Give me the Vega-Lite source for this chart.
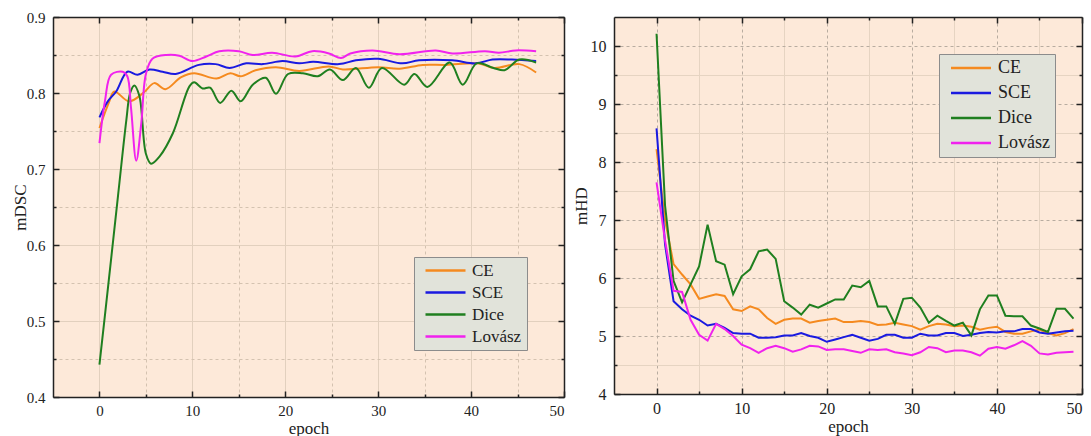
{
  "$schema": "https://vega.github.io/schema/vega-lite/v6.json",
  "background": "white",
  "padding": {"left": 11, "top": 10, "right": 5, "bottom": 0},
  "bounds": "flush",
  "spacing": 50,
  "config": {
    "font": "Liberation Serif",
    "view": {"fill": "#fde9d9", "stroke": null},
    "axis": {"labelFont": "Liberation Serif", "titleFont": "Liberation Serif", "labelColor": "#222", "titleColor": "#222", "titleFontWeight": "normal", "domainColor": "#222", "domainWidth": 1.5, "tickColor": "#222", "tickWidth": 1.5},
    "legend": {"labelFont": "Liberation Serif", "labelColor": "#222"}
  },
  "resolve": {"scale": {"color": "independent"}, "legend": {"color": "independent"}},
  "datasets": {
    "dsc": [
      {"epoch": 0, "loss": "CE", "value": 0.754}, {"epoch": 1, "loss": "CE", "value": 0.787}, {"epoch": 1.6, "loss": "CE", "value": 0.802}, {"epoch": 3.2, "loss": "CE", "value": 0.789}, {"epoch": 4.8, "loss": "CE", "value": 0.801}, {"epoch": 5.9, "loss": "CE", "value": 0.813}, {"epoch": 7.1, "loss": "CE", "value": 0.805}, {"epoch": 8.8, "loss": "CE", "value": 0.821}, {"epoch": 10.2, "loss": "CE", "value": 0.826}, {"epoch": 12.6, "loss": "CE", "value": 0.819}, {"epoch": 14.1, "loss": "CE", "value": 0.826}, {"epoch": 15.2, "loss": "CE", "value": 0.822}, {"epoch": 16.8, "loss": "CE", "value": 0.830}, {"epoch": 19, "loss": "CE", "value": 0.834}, {"epoch": 21.5, "loss": "CE", "value": 0.829}, {"epoch": 24.7, "loss": "CE", "value": 0.835}, {"epoch": 26.2, "loss": "CE", "value": 0.831}, {"epoch": 30, "loss": "CE", "value": 0.834}, {"epoch": 32.3, "loss": "CE", "value": 0.832}, {"epoch": 34.8, "loss": "CE", "value": 0.837}, {"epoch": 37.3, "loss": "CE", "value": 0.837}, {"epoch": 40.7, "loss": "CE", "value": 0.839}, {"epoch": 42.5, "loss": "CE", "value": 0.833}, {"epoch": 45.2, "loss": "CE", "value": 0.838}, {"epoch": 47, "loss": "CE", "value": 0.827},
      {"epoch": 0, "loss": "SCE", "value": 0.768}, {"epoch": 0.9, "loss": "SCE", "value": 0.789}, {"epoch": 1.8, "loss": "SCE", "value": 0.802}, {"epoch": 3, "loss": "SCE", "value": 0.828}, {"epoch": 4.1, "loss": "SCE", "value": 0.824}, {"epoch": 5.4, "loss": "SCE", "value": 0.831}, {"epoch": 6.8, "loss": "SCE", "value": 0.828}, {"epoch": 8.2, "loss": "SCE", "value": 0.825}, {"epoch": 10.7, "loss": "SCE", "value": 0.837}, {"epoch": 12.5, "loss": "SCE", "value": 0.838}, {"epoch": 14, "loss": "SCE", "value": 0.833}, {"epoch": 15.8, "loss": "SCE", "value": 0.839}, {"epoch": 17.6, "loss": "SCE", "value": 0.838}, {"epoch": 19.7, "loss": "SCE", "value": 0.842}, {"epoch": 21.5, "loss": "SCE", "value": 0.839}, {"epoch": 23, "loss": "SCE", "value": 0.841}, {"epoch": 25.8, "loss": "SCE", "value": 0.838}, {"epoch": 27.6, "loss": "SCE", "value": 0.843}, {"epoch": 30, "loss": "SCE", "value": 0.845}, {"epoch": 32.6, "loss": "SCE", "value": 0.839}, {"epoch": 34.4, "loss": "SCE", "value": 0.843}, {"epoch": 38, "loss": "SCE", "value": 0.843}, {"epoch": 40.5, "loss": "SCE", "value": 0.839}, {"epoch": 42.3, "loss": "SCE", "value": 0.844}, {"epoch": 44.4, "loss": "SCE", "value": 0.844}, {"epoch": 47, "loss": "SCE", "value": 0.842},
      {"epoch": 0, "loss": "Dice", "value": 0.4425}, {"epoch": 1, "loss": "Dice", "value": 0.553}, {"epoch": 2, "loss": "Dice", "value": 0.665}, {"epoch": 2.9, "loss": "Dice", "value": 0.765}, {"epoch": 3.3, "loss": "Dice", "value": 0.800}, {"epoch": 3.76, "loss": "Dice", "value": 0.81}, {"epoch": 4.3, "loss": "Dice", "value": 0.796}, {"epoch": 5, "loss": "Dice", "value": 0.72}, {"epoch": 5.55, "loss": "Dice", "value": 0.707}, {"epoch": 6.5, "loss": "Dice", "value": 0.717}, {"epoch": 7.9, "loss": "Dice", "value": 0.747}, {"epoch": 9.7, "loss": "Dice", "value": 0.809}, {"epoch": 10.2, "loss": "Dice", "value": 0.814}, {"epoch": 11.1, "loss": "Dice", "value": 0.806}, {"epoch": 11.9, "loss": "Dice", "value": 0.807}, {"epoch": 13, "loss": "Dice", "value": 0.787}, {"epoch": 14.2, "loss": "Dice", "value": 0.803}, {"epoch": 15.2, "loss": "Dice", "value": 0.789}, {"epoch": 16.5, "loss": "Dice", "value": 0.811}, {"epoch": 17.9, "loss": "Dice", "value": 0.820}, {"epoch": 19, "loss": "Dice", "value": 0.799}, {"epoch": 20.3, "loss": "Dice", "value": 0.825}, {"epoch": 21.9, "loss": "Dice", "value": 0.826}, {"epoch": 23.5, "loss": "Dice", "value": 0.822}, {"epoch": 24.8, "loss": "Dice", "value": 0.831}, {"epoch": 26.2, "loss": "Dice", "value": 0.817}, {"epoch": 27.6, "loss": "Dice", "value": 0.833}, {"epoch": 29, "loss": "Dice", "value": 0.807}, {"epoch": 30.4, "loss": "Dice", "value": 0.833}, {"epoch": 32.8, "loss": "Dice", "value": 0.811}, {"epoch": 33.9, "loss": "Dice", "value": 0.825}, {"epoch": 35.3, "loss": "Dice", "value": 0.808}, {"epoch": 37.7, "loss": "Dice", "value": 0.840}, {"epoch": 39.1, "loss": "Dice", "value": 0.811}, {"epoch": 40.6, "loss": "Dice", "value": 0.839}, {"epoch": 42.4, "loss": "Dice", "value": 0.833}, {"epoch": 43.6, "loss": "Dice", "value": 0.830}, {"epoch": 45.2, "loss": "Dice", "value": 0.844}, {"epoch": 47, "loss": "Dice", "value": 0.840},
      {"epoch": 0, "loss": "Lovász", "value": 0.734}, {"epoch": 0.6, "loss": "Lovász", "value": 0.79}, {"epoch": 1.25, "loss": "Lovász", "value": 0.824}, {"epoch": 2.5, "loss": "Lovász", "value": 0.828}, {"epoch": 3, "loss": "Lovász", "value": 0.822}, {"epoch": 3.4, "loss": "Lovász", "value": 0.78}, {"epoch": 3.96, "loss": "Lovász", "value": 0.711}, {"epoch": 4.5, "loss": "Lovász", "value": 0.76}, {"epoch": 5, "loss": "Lovász", "value": 0.825}, {"epoch": 5.7, "loss": "Lovász", "value": 0.845}, {"epoch": 7.2, "loss": "Lovász", "value": 0.85}, {"epoch": 8.6, "loss": "Lovász", "value": 0.849}, {"epoch": 10, "loss": "Lovász", "value": 0.842}, {"epoch": 11.5, "loss": "Lovász", "value": 0.848}, {"epoch": 12.9, "loss": "Lovász", "value": 0.855}, {"epoch": 15, "loss": "Lovász", "value": 0.855}, {"epoch": 16.5, "loss": "Lovász", "value": 0.85}, {"epoch": 18.6, "loss": "Lovász", "value": 0.853}, {"epoch": 21.1, "loss": "Lovász", "value": 0.848}, {"epoch": 22.9, "loss": "Lovász", "value": 0.855}, {"epoch": 24.7, "loss": "Lovász", "value": 0.852}, {"epoch": 26, "loss": "Lovász", "value": 0.846}, {"epoch": 27, "loss": "Lovász", "value": 0.852}, {"epoch": 29.4, "loss": "Lovász", "value": 0.856}, {"epoch": 32.3, "loss": "Lovász", "value": 0.851}, {"epoch": 36.2, "loss": "Lovász", "value": 0.856}, {"epoch": 38, "loss": "Lovász", "value": 0.852}, {"epoch": 41.5, "loss": "Lovász", "value": 0.855}, {"epoch": 43, "loss": "Lovász", "value": 0.853}, {"epoch": 44.8, "loss": "Lovász", "value": 0.856}, {"epoch": 47, "loss": "Lovász", "value": 0.855}
    ],
    "hd": [
      {"epoch": 0, "CE": 8.22, "SCE": 8.58, "Dice": 10.21, "Lovász": 7.65},
      {"epoch": 1, "CE": 7.0, "SCE": 6.58, "Dice": 7.25, "Lovász": 6.65},
      {"epoch": 2, "CE": 6.24, "SCE": 5.60, "Dice": 5.95, "Lovász": 5.78},
      {"epoch": 3, "CE": 6.06, "SCE": 5.46, "Dice": 5.58, "Lovász": 5.76},
      {"epoch": 4, "CE": 5.89, "SCE": 5.35, "Dice": 5.89, "Lovász": 5.28},
      {"epoch": 5, "CE": 5.64, "SCE": 5.28, "Dice": 6.20, "Lovász": 5.02},
      {"epoch": 6, "CE": 5.68, "SCE": 5.18, "Dice": 6.92, "Lovász": 4.92},
      {"epoch": 7, "CE": 5.72, "SCE": 5.21, "Dice": 6.29, "Lovász": 5.21},
      {"epoch": 8, "CE": 5.69, "SCE": 5.14, "Dice": 6.23, "Lovász": 5.12},
      {"epoch": 9, "CE": 5.46, "SCE": 5.05, "Dice": 5.72, "Lovász": 5.00},
      {"epoch": 10, "CE": 5.43, "SCE": 5.04, "Dice": 6.03, "Lovász": 4.85},
      {"epoch": 11, "CE": 5.51, "SCE": 5.04, "Dice": 6.15, "Lovász": 4.79},
      {"epoch": 12, "CE": 5.46, "SCE": 4.97, "Dice": 6.46, "Lovász": 4.71},
      {"epoch": 13, "CE": 5.31, "SCE": 4.97, "Dice": 6.49, "Lovász": 4.79},
      {"epoch": 14, "CE": 5.21, "SCE": 4.98, "Dice": 6.33, "Lovász": 4.83},
      {"epoch": 15, "CE": 5.28, "SCE": 5.01, "Dice": 5.60, "Lovász": 4.79},
      {"epoch": 16, "CE": 5.30, "SCE": 5.01, "Dice": 5.49, "Lovász": 4.73},
      {"epoch": 17, "CE": 5.30, "SCE": 5.05, "Dice": 5.37, "Lovász": 4.77},
      {"epoch": 18, "CE": 5.23, "SCE": 5.00, "Dice": 5.54, "Lovász": 4.83},
      {"epoch": 19, "CE": 5.26, "SCE": 4.97, "Dice": 5.49, "Lovász": 4.82},
      {"epoch": 20, "CE": 5.28, "SCE": 4.90, "Dice": 5.56, "Lovász": 4.76},
      {"epoch": 21, "CE": 5.30, "SCE": 4.94, "Dice": 5.63, "Lovász": 4.77},
      {"epoch": 22, "CE": 5.24, "SCE": 4.98, "Dice": 5.63, "Lovász": 4.77},
      {"epoch": 23, "CE": 5.24, "SCE": 5.02, "Dice": 5.87, "Lovász": 4.74},
      {"epoch": 24, "CE": 5.26, "SCE": 4.97, "Dice": 5.84, "Lovász": 4.71},
      {"epoch": 25, "CE": 5.24, "SCE": 4.92, "Dice": 5.95, "Lovász": 4.77},
      {"epoch": 26, "CE": 5.19, "SCE": 4.95, "Dice": 5.51, "Lovász": 4.76},
      {"epoch": 27, "CE": 5.20, "SCE": 5.02, "Dice": 5.51, "Lovász": 4.77},
      {"epoch": 28, "CE": 5.23, "SCE": 5.02, "Dice": 5.21, "Lovász": 4.72},
      {"epoch": 29, "CE": 5.20, "SCE": 4.97, "Dice": 5.64, "Lovász": 4.70},
      {"epoch": 30, "CE": 5.17, "SCE": 4.97, "Dice": 5.66, "Lovász": 4.67},
      {"epoch": 31, "CE": 5.11, "SCE": 5.04, "Dice": 5.49, "Lovász": 4.72},
      {"epoch": 32, "CE": 5.17, "SCE": 5.01, "Dice": 5.23, "Lovász": 4.81},
      {"epoch": 33, "CE": 5.21, "SCE": 5.01, "Dice": 5.35, "Lovász": 4.79},
      {"epoch": 34, "CE": 5.20, "SCE": 5.05, "Dice": 5.26, "Lovász": 4.72},
      {"epoch": 35, "CE": 5.17, "SCE": 5.05, "Dice": 5.18, "Lovász": 4.75},
      {"epoch": 36, "CE": 5.18, "SCE": 5.00, "Dice": 5.23, "Lovász": 4.75},
      {"epoch": 37, "CE": 5.16, "SCE": 5.02, "Dice": 5.01, "Lovász": 4.72},
      {"epoch": 38, "CE": 5.11, "SCE": 5.05, "Dice": 5.46, "Lovász": 4.66},
      {"epoch": 39, "CE": 5.14, "SCE": 5.07, "Dice": 5.70, "Lovász": 4.78},
      {"epoch": 40, "CE": 5.16, "SCE": 5.06, "Dice": 5.70, "Lovász": 4.81},
      {"epoch": 41, "CE": 5.07, "SCE": 5.08, "Dice": 5.35, "Lovász": 4.78},
      {"epoch": 42, "CE": 5.04, "SCE": 5.08, "Dice": 5.34, "Lovász": 4.84},
      {"epoch": 43, "CE": 5.04, "SCE": 5.12, "Dice": 5.34, "Lovász": 4.91},
      {"epoch": 44, "CE": 5.08, "SCE": 5.12, "Dice": 5.18, "Lovász": 4.83},
      {"epoch": 45, "CE": 5.11, "SCE": 5.06, "Dice": 5.13, "Lovász": 4.70},
      {"epoch": 46, "CE": 5.05, "SCE": 5.04, "Dice": 5.07, "Lovász": 4.68},
      {"epoch": 47, "CE": 5.01, "SCE": 5.06, "Dice": 5.47, "Lovász": 4.71},
      {"epoch": 48, "CE": 5.05, "SCE": 5.08, "Dice": 5.47, "Lovász": 4.72},
      {"epoch": 49, "CE": 5.12, "SCE": 5.09, "Dice": 5.30, "Lovász": 4.73}
    ]
  },
  "hconcat": [
    {
      "width": 511,
      "height": 380,
      "data": {"name": "dsc"},
      "resolve": {"axis": {"x": "independent", "y": "independent"}},
      "layer": [
        {
          "mark": {"type": "line", "interpolate": "catmull-rom", "strokeWidth": 2},
          "encoding": {
            "x": {"field": "epoch", "type": "quantitative", "scale": {"domain": [-5, 50], "nice": false, "zero": false},
              "axis": {"orient": "bottom", "values": [0, 10, 20, 30, 40, 50], "ticks": false, "labelPadding": 6, "labelFontSize": 15, "title": "epoch", "titleFontSize": 17, "titlePadding": 2, "grid": true, "gridColor": "#e2d0be", "gridWidth": 1}},
            "y": {"field": "value", "type": "quantitative", "scale": {"domain": [0.4, 0.9], "nice": false, "zero": false},
              "axis": {"orient": "left", "values": [0.4, 0.5, 0.6, 0.7, 0.8, 0.9], "format": ".1f", "ticks": false, "labelPadding": 8, "labelFontSize": 15, "title": "mDSC", "titleFontSize": 17, "titlePadding": -3, "grid": true, "gridColor": "#e2d0be", "gridWidth": 1}},
            "color": {"field": "loss", "type": "nominal",
              "scale": {"domain": ["CE", "SCE", "Dice", "Lovász"], "range": ["#f58a1f", "#1a1ae0", "#1f7f1f", "#f022ee"]},
              "legend": {"orient": "none", "legendX": 361, "legendY": 240, "title": null, "fillColor": "#e1e3da", "strokeColor": "#8c8c8c", "padding": 5, "symbolType": "M-4,0H4", "symbolSize": 100, "symbolStrokeWidth": 2.5, "symbolOffset": 18, "labelFontSize": 17, "rowPadding": 4, "labelOffset": 18}}
          }
        },
        {
          "mark": {"type": "point", "opacity": 0},
          "encoding": {
            "x": {"field": "epoch", "type": "quantitative", "scale": {"domain": [-5, 50], "nice": false, "zero": false},
              "axis": {"orient": "top", "values": [0, 10, 20, 30, 40, 50], "labels": false, "title": null, "grid": false, "tickSize": -6}},
            "y": {"field": "value", "type": "quantitative", "scale": {"domain": [0.4, 0.9], "nice": false, "zero": false},
              "axis": {"orient": "right", "values": [0.4, 0.5, 0.6, 0.7, 0.8, 0.9], "labels": false, "title": null, "grid": false, "tickSize": -6}}
          }
        },
        {
          "mark": {"type": "point", "opacity": 0},
          "encoding": {
            "x": {"field": "epoch", "type": "quantitative", "scale": {"domain": [-5, 50], "nice": false, "zero": false},
              "axis": {"orient": "bottom", "values": [0, 10, 20, 30, 40, 50], "labels": false, "domain": false, "title": null, "grid": false, "tickSize": -6}},
            "y": {"field": "value", "type": "quantitative", "scale": {"domain": [0.4, 0.9], "nice": false, "zero": false},
              "axis": {"orient": "left", "values": [0.4, 0.5, 0.6, 0.7, 0.8, 0.9], "labels": false, "domain": false, "title": null, "grid": false, "tickSize": -6}}
          }
        },
        {
          "mark": {"type": "point", "opacity": 0},
          "encoding": {
            "x": {"field": "epoch", "type": "quantitative", "scale": {"domain": [-5, 50], "nice": false, "zero": false},
              "axis": {"orient": "bottom", "values": [5, 15, 25, 35, 45], "labels": false, "domain": false, "title": null, "grid": true, "gridColor": "#d4c2b0", "gridDash": [3, 3], "tickSize": -3}},
            "y": {"field": "value", "type": "quantitative", "scale": {"domain": [0.4, 0.9], "nice": false, "zero": false},
              "axis": {"orient": "left", "values": [0.45, 0.55, 0.65, 0.75, 0.85], "labels": false, "domain": false, "title": null, "grid": true, "gridColor": "#d4c2b0", "gridDash": [3, 3], "tickSize": -3}}
          }
        },
        {
          "mark": {"type": "point", "opacity": 0},
          "encoding": {
            "x": {"field": "epoch", "type": "quantitative", "scale": {"domain": [-5, 50], "nice": false, "zero": false},
              "axis": {"orient": "top", "values": [5, 15, 25, 35, 45], "labels": false, "domain": false, "title": null, "grid": false, "tickSize": -3}},
            "y": {"field": "value", "type": "quantitative", "scale": {"domain": [0.4, 0.9], "nice": false, "zero": false},
              "axis": {"orient": "right", "values": [0.45, 0.55, 0.65, 0.75, 0.85], "labels": false, "domain": false, "title": null, "grid": false, "tickSize": -3}}
          }
        }
      ]
    },
    {
      "width": 468,
      "height": 377,
      "data": {"name": "hd"},
      "transform": [{"fold": ["CE", "SCE", "Dice", "Lovász"], "as": ["loss", "value"]}],
      "resolve": {"axis": {"x": "independent", "y": "independent"}},
      "layer": [
        {
          "mark": {"type": "line", "interpolate": "linear", "strokeWidth": 2},
          "encoding": {
            "x": {"field": "epoch", "type": "quantitative", "scale": {"domain": [-5, 50], "nice": false, "zero": false},
              "axis": {"orient": "bottom", "values": [0, 10, 20, 30, 40, 50], "ticks": false, "labelPadding": 6, "labelFontSize": 16, "title": "epoch", "titleFontSize": 17, "titlePadding": 2, "grid": true, "gridColor": "#b8aca0", "gridDash": [3, 3], "gridWidth": 1}},
            "y": {"field": "value", "type": "quantitative", "scale": {"domain": [4, 10.5], "nice": false, "zero": false},
              "axis": {"orient": "left", "values": [4, 5, 6, 7, 8, 9, 10], "format": "d", "ticks": false, "labelPadding": 8, "labelFontSize": 16, "title": "mHD", "titleFontSize": 17, "titlePadding": 0, "grid": true, "gridColor": "#b8aca0", "gridDash": [3, 3], "gridWidth": 1}},
            "color": {"field": "loss", "type": "nominal",
              "scale": {"domain": ["CE", "SCE", "Dice", "Lovász"], "range": ["#f58a1f", "#1a1ae0", "#1f7f1f", "#f022ee"]},
              "legend": {"orient": "none", "legendX": 325, "legendY": 37, "title": null, "fillColor": "#e1e3da", "strokeColor": "#8c8c8c", "padding": 5, "symbolType": "M-4,0H4", "symbolSize": 100, "symbolStrokeWidth": 2.5, "symbolOffset": 18, "labelFontSize": 18, "rowPadding": 7, "labelOffset": 18}}
          }
        },
        {
          "mark": {"type": "point", "opacity": 0},
          "encoding": {
            "x": {"field": "epoch", "type": "quantitative", "scale": {"domain": [-5, 50], "nice": false, "zero": false},
              "axis": {"orient": "top", "values": [0, 10, 20, 30, 40, 50], "labels": false, "title": null, "grid": false, "tickSize": -6}},
            "y": {"field": "value", "type": "quantitative", "scale": {"domain": [4, 10.5], "nice": false, "zero": false},
              "axis": {"orient": "right", "values": [4, 5, 6, 7, 8, 9, 10], "labels": false, "title": null, "grid": false, "tickSize": -6}}
          }
        },
        {
          "mark": {"type": "point", "opacity": 0},
          "encoding": {
            "x": {"field": "epoch", "type": "quantitative", "scale": {"domain": [-5, 50], "nice": false, "zero": false},
              "axis": {"orient": "bottom", "values": [0, 10, 20, 30, 40, 50], "labels": false, "domain": false, "title": null, "grid": false, "tickSize": -6}},
            "y": {"field": "value", "type": "quantitative", "scale": {"domain": [4, 10.5], "nice": false, "zero": false},
              "axis": {"orient": "left", "values": [4, 5, 6, 7, 8, 9, 10], "labels": false, "domain": false, "title": null, "grid": false, "tickSize": -6}}
          }
        },
        {
          "mark": {"type": "point", "opacity": 0},
          "encoding": {
            "x": {"field": "epoch", "type": "quantitative", "scale": {"domain": [-5, 50], "nice": false, "zero": false},
              "axis": {"orient": "bottom", "values": [5, 15, 25, 35, 45], "labels": false, "domain": false, "title": null, "grid": true, "gridColor": "#e6d4c2", "tickSize": -3}},
            "y": {"field": "value", "type": "quantitative", "scale": {"domain": [4, 10.5], "nice": false, "zero": false},
              "axis": {"orient": "left", "values": [4.5, 5.5, 6.5, 7.5, 8.5, 9.5], "labels": false, "domain": false, "title": null, "grid": true, "gridColor": "#e6d4c2", "tickSize": -3}}
          }
        },
        {
          "mark": {"type": "point", "opacity": 0},
          "encoding": {
            "x": {"field": "epoch", "type": "quantitative", "scale": {"domain": [-5, 50], "nice": false, "zero": false},
              "axis": {"orient": "top", "values": [5, 15, 25, 35, 45], "labels": false, "domain": false, "title": null, "grid": false, "tickSize": -3}},
            "y": {"field": "value", "type": "quantitative", "scale": {"domain": [4, 10.5], "nice": false, "zero": false},
              "axis": {"orient": "right", "values": [4.5, 5.5, 6.5, 7.5, 8.5, 9.5], "labels": false, "domain": false, "title": null, "grid": false, "tickSize": -3}}
          }
        }
      ]
    }
  ]
}
